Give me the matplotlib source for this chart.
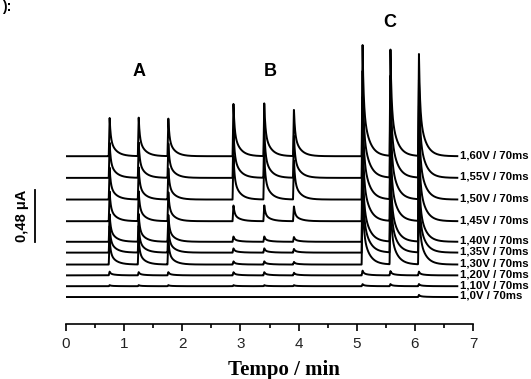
import numpy as np
import matplotlib
matplotlib.use('Agg')
import matplotlib.pyplot as plt
from matplotlib.transforms import blended_transform_factory

plt.rcParams['font.family'] = ['Liberation Sans', 'DejaVu Sans']

# injection times (min): A x3, B x3, C x3
peak_times = [0.75, 1.25, 1.76, 2.88, 3.41, 3.92, 5.10, 5.58, 6.07]

trace_labels = ['1,0V / 70ms', '1,10V / 70ms', '1,20V / 70ms', '1,30V / 70ms',
                '1,35V / 70ms', '1,40V / 70ms', '1,45V / 70ms', '1,50V / 70ms',
                '1,55V / 70ms', '1,60V / 70ms']

# vertical offset of each baseline (uA)
trace_offsets = [0.0, 0.10, 0.20, 0.30, 0.41, 0.51, 0.70, 0.90, 1.10, 1.30]

# peak heights (uA) per trace, one value per injection
peak_heights = [
    [0.00, 0.00, 0.00, 0.00, 0.00, 0.00, 0.00, 0.00, 0.02],
    [0.01, 0.01, 0.01, 0.01, 0.01, 0.01, 0.02, 0.02, 0.02],
    [0.035, 0.03, 0.03, 0.03, 0.03, 0.025, 0.045, 0.04, 0.035],
    [0.24, 0.24, 0.23, 0.03, 0.03, 0.025, 0.70, 0.66, 0.62],
    [0.25, 0.25, 0.24, 0.04, 0.04, 0.035, 0.78, 0.73, 0.69],
    [0.26, 0.26, 0.25, 0.05, 0.05, 0.045, 0.85, 0.80, 0.75],
    [0.28, 0.28, 0.27, 0.15, 0.15, 0.14, 0.92, 0.86, 0.82],
    [0.30, 0.30, 0.29, 0.42, 0.42, 0.37, 0.98, 0.92, 0.87],
    [0.33, 0.33, 0.32, 0.46, 0.46, 0.40, 1.02, 0.96, 0.91],
    [0.36, 0.36, 0.35, 0.50, 0.50, 0.44, 1.06, 1.00, 0.95],
]

group_names = ['A', 'B', 'C']
group_pos = [(1.26, 2.08), (3.51, 2.08), (5.57, 2.53)]

scale_bar = 0.48  # uA


def peak_shape(t, t0, h):
    """Sharp rise then fast + slow exponential decay."""
    dt = t - t0
    pos = np.clip(dt, 0, None)
    rise = np.clip((dt + 0.015) / 0.015, 0, 1) * (dt < 0)
    decay = (0.55 * np.exp(-pos / 0.018) + 0.45 * np.exp(-pos / 0.1)) * (dt >= 0)
    return h * (rise + decay)


t = np.linspace(0, 6.73, 4000)

fig = plt.figure(figsize=(5.31, 3.79), dpi=100)
ax = fig.add_axes([66 / 531, 55 / 379, 407 / 531, 324 / 379])

for label, off, heights in zip(trace_labels, trace_offsets, peak_heights):
    y = np.full_like(t, off)
    for t0, h in zip(peak_times, heights):
        y += peak_shape(t, t0, h)
    ax.plot(t, y, color='black', lw=1.4)
    ax.text(6.78, off + 0.01, label, fontsize=8.2, fontweight='bold',
            va='center', ha='left', clip_on=False)

for name, (gx, gy) in zip(group_names, group_pos):
    ax.text(gx, gy, name, fontsize=13, fontweight='bold', ha='center', va='center')

ax.set_xlim(0, 7)
ax.set_ylim(-0.249, 2.742)
ax.set_xticks(range(8))
ax.set_xticks(np.arange(0.5, 7, 1), minor=True)
ax.tick_params(axis='x', which='major', direction='out', length=5, width=1.2,
               labelsize=11, pad=4, labelcolor='#222222')
ax.tick_params(axis='x', which='minor', direction='out', length=3, width=1.2)
ax.set_yticks([])
for side in ('left', 'top', 'right'):
    ax.spines[side].set_visible(False)
ax.spines['bottom'].set_linewidth(1.2)

ax.set_xlabel('Tempo / min', family='Liberation Serif', fontweight='bold',
              fontsize=15)
ax.xaxis.set_label_coords(0.536, -0.112)

# scale bar
tr = blended_transform_factory(ax.transAxes, ax.transData)
ax.plot([-0.076, -0.076], [0.508, 0.508 + scale_bar], color='black', lw=1.3,
        transform=tr, clip_on=False)
ax.text(-0.108, 0.508 + scale_bar / 2, '0,48 μA', rotation=90, fontsize=10.5,
        fontweight='bold', ha='center', va='center', transform=tr)

fig.text(0.004, 1.0, '):', fontsize=10, fontweight='bold', ha='left', va='top')

fig.savefig('out.png', dpi=100)
